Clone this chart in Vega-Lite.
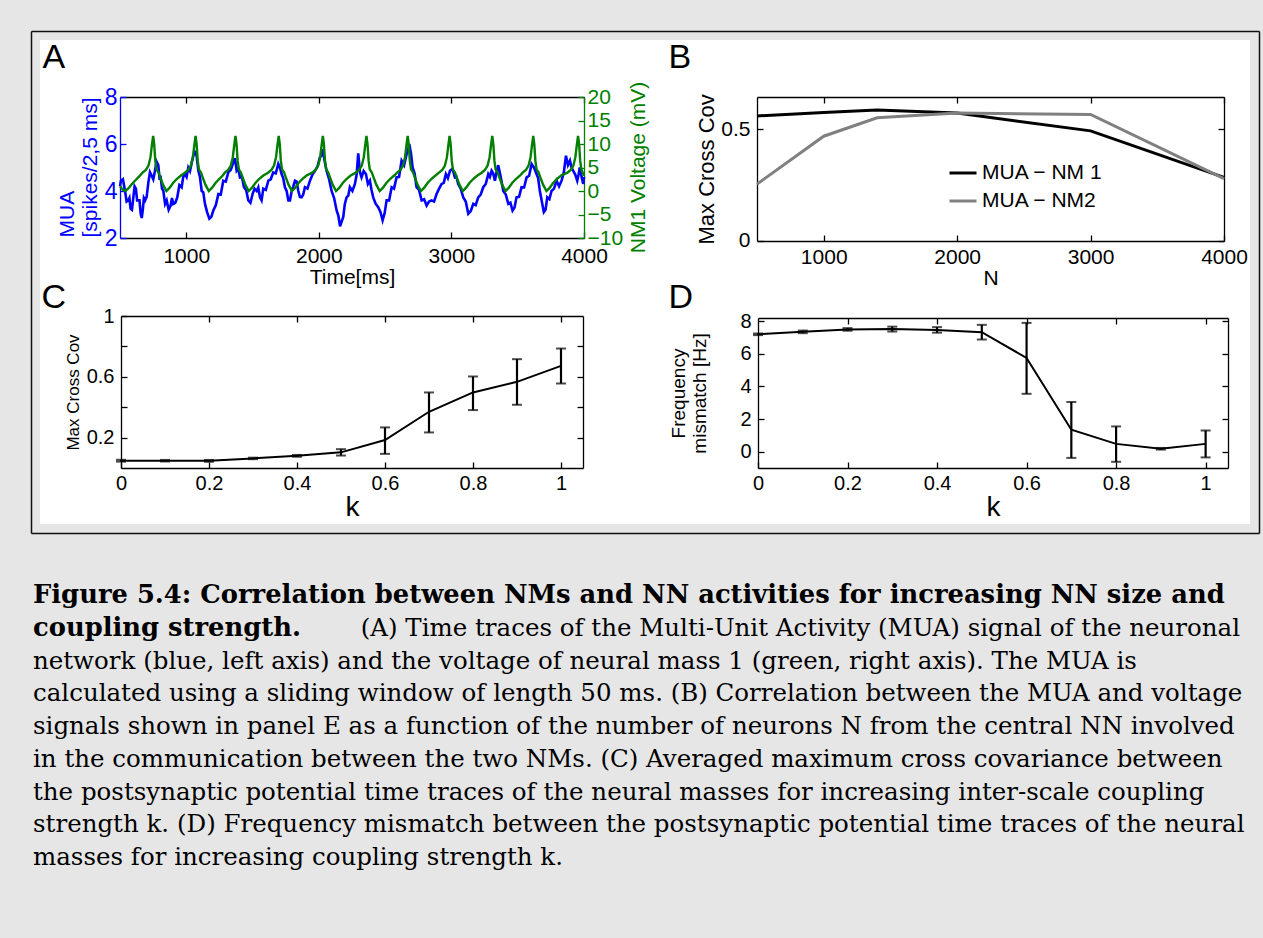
{
  "$schema": "https://vega.github.io/schema/vega-lite/v6.json",
  "background": "#e6e6e6",
  "padding": {"left": 31, "top": 31, "right": 4, "bottom": 80},
  "spacing": 40,
  "datasets": {
    "mua": [
      {"t":500,"mua":4.2},{"t":507,"mua":4.44},{"t":522,"mua":4.5},{"t":538,"mua":4.0},{"t":550,"mua":3.55},{"t":563,"mua":3.6},{"t":571,"mua":3.7},{"t":580,"mua":3.24},{"t":590,"mua":3.2},{"t":600,"mua":3.7},
      {"t":610,"mua":4.2},{"t":620,"mua":4.1},{"t":629,"mua":3.6},{"t":638,"mua":3.6},{"t":647,"mua":3.6},{"t":656,"mua":3.03},{"t":664,"mua":2.85},{"t":672,"mua":3.2},{"t":680,"mua":3.7},{"t":689,"mua":3.6},
      {"t":701,"mua":3.75},{"t":714,"mua":4.37},{"t":726,"mua":4.8},{"t":739,"mua":4.65},{"t":751,"mua":4.5},{"t":764,"mua":4.86},{"t":776,"mua":5.25},{"t":789,"mua":5.1},{"t":798,"mua":4.55},{"t":807,"mua":4.58},
      {"t":817,"mua":4.1},{"t":827,"mua":4.0},{"t":840,"mua":3.45},{"t":852,"mua":3.6},{"t":867,"mua":3.2},{"t":882,"mua":3.38},{"t":892,"mua":3.7},{"t":902,"mua":3.45},{"t":917,"mua":3.5},{"t":932,"mua":3.73},
      {"t":948,"mua":4.25},{"t":965,"mua":4.16},{"t":977,"mua":4.6},{"t":990,"mua":4.72},{"t":1002,"mua":4.6},{"t":1015,"mua":5.0},{"t":1028,"mua":4.85},{"t":1041,"mua":5.2},{"t":1053,"mua":5.5},{"t":1066,"mua":5.64},
      {"t":1078,"mua":5.5},{"t":1091,"mua":4.86},{"t":1103,"mua":4.6},{"t":1116,"mua":4.0},{"t":1128,"mua":3.95},{"t":1141,"mua":3.45},{"t":1157,"mua":3.1},{"t":1174,"mua":2.82},{"t":1189,"mua":2.9},{"t":1204,"mua":3.17},
      {"t":1223,"mua":3.4},{"t":1242,"mua":3.87},{"t":1260,"mua":3.85},{"t":1279,"mua":4.44},{"t":1298,"mua":4.4},{"t":1317,"mua":4.79},{"t":1336,"mua":4.9},{"t":1355,"mua":5.22},{"t":1367,"mua":5.4},{"t":1380,"mua":4.86},
      {"t":1392,"mua":4.95},{"t":1405,"mua":4.58},{"t":1420,"mua":4.6},{"t":1435,"mua":4.16},{"t":1451,"mua":4.05},{"t":1468,"mua":3.6},{"t":1484,"mua":3.5},{"t":1500,"mua":3.87},{"t":1515,"mua":4.1},{"t":1531,"mua":4.0},
      {"t":1543,"mua":4.15},{"t":1556,"mua":3.73},{"t":1568,"mua":3.6},{"t":1581,"mua":4.1},{"t":1600,"mua":4.05},{"t":1619,"mua":4.44},{"t":1637,"mua":4.5},{"t":1656,"mua":4.79},{"t":1675,"mua":4.75},{"t":1694,"mua":5.15},
      {"t":1706,"mua":5.0},{"t":1719,"mua":4.72},{"t":1731,"mua":4.55},{"t":1744,"mua":4.16},{"t":1757,"mua":4.0},{"t":1770,"mua":3.6},{"t":1782,"mua":3.6},{"t":1795,"mua":4.0},{"t":1807,"mua":4.2},{"t":1820,"mua":4.44},
      {"t":1832,"mua":4.4},{"t":1845,"mua":4.0},{"t":1857,"mua":3.75},{"t":1870,"mua":3.73},{"t":1882,"mua":3.85},{"t":1895,"mua":4.16},{"t":1914,"mua":4.1},{"t":1933,"mua":4.44},{"t":1952,"mua":4.7},{"t":1971,"mua":4.86},
      {"t":1990,"mua":5.05},{"t":2008,"mua":5.43},{"t":2018,"mua":5.5},{"t":2028,"mua":5.78},{"t":2043,"mua":5.3},{"t":2058,"mua":4.86},{"t":2077,"mua":4.5},{"t":2096,"mua":4.0},{"t":2115,"mua":3.7},{"t":2134,"mua":3.17},
      {"t":2147,"mua":2.95},{"t":2160,"mua":2.5},{"t":2172,"mua":2.7},{"t":2184,"mua":2.9},{"t":2196,"mua":3.45},{"t":2209,"mua":3.73},{"t":2222,"mua":3.8},{"t":2234,"mua":4.16},{"t":2253,"mua":4.0},{"t":2272,"mua":4.3},
      {"t":2285,"mua":4.7},{"t":2297,"mua":5.6},{"t":2310,"mua":4.8},{"t":2322,"mua":4.58},{"t":2338,"mua":4.85},{"t":2355,"mua":4.72},{"t":2370,"mua":4.3},{"t":2385,"mua":4.44},{"t":2397,"mua":4.05},{"t":2410,"mua":3.73},
      {"t":2429,"mua":3.45},{"t":2448,"mua":3.31},{"t":2465,"mua":3.1},{"t":2481,"mua":2.75},{"t":2496,"mua":3.05},{"t":2511,"mua":3.6},{"t":2530,"mua":3.6},{"t":2549,"mua":4.16},{"t":2567,"mua":4.1},{"t":2586,"mua":4.58},
      {"t":2605,"mua":4.6},{"t":2624,"mua":5.29},{"t":2643,"mua":5.1},{"t":2662,"mua":5.57},{"t":2672,"mua":5.7},{"t":2682,"mua":6.0},{"t":2695,"mua":5.6},{"t":2707,"mua":5.0},{"t":2722,"mua":4.75},{"t":2737,"mua":4.16},
      {"t":2756,"mua":4.05},{"t":2775,"mua":3.6},{"t":2794,"mua":3.65},{"t":2813,"mua":3.38},{"t":2831,"mua":3.55},{"t":2850,"mua":3.6},{"t":2869,"mua":3.55},{"t":2888,"mua":3.87},{"t":2907,"mua":4.1},{"t":2926,"mua":4.3},
      {"t":2942,"mua":4.35},{"t":2958,"mua":4.72},{"t":2973,"mua":4.55},{"t":2989,"mua":4.86},{"t":3008,"mua":4.95},{"t":3026,"mua":4.58},{"t":3038,"mua":4.6},{"t":3051,"mua":4.3},{"t":3070,"mua":4.1},{"t":3089,"mua":3.73},
      {"t":3108,"mua":3.55},{"t":3127,"mua":3.03},{"t":3146,"mua":3.15},{"t":3165,"mua":3.45},{"t":3183,"mua":3.4},{"t":3202,"mua":3.73},{"t":3221,"mua":3.85},{"t":3240,"mua":4.16},{"t":3259,"mua":4.3},{"t":3278,"mua":4.72},
      {"t":3290,"mua":4.6},{"t":3303,"mua":4.86},{"t":3315,"mua":4.75},{"t":3328,"mua":4.44},{"t":3340,"mua":4.8},{"t":3353,"mua":5.1},{"t":3372,"mua":4.6},{"t":3391,"mua":4.0},{"t":3410,"mua":3.85},{"t":3429,"mua":3.45},
      {"t":3445,"mua":3.5},{"t":3461,"mua":3.17},{"t":3476,"mua":3.3},{"t":3491,"mua":3.73},{"t":3510,"mua":3.75},{"t":3529,"mua":4.16},{"t":3548,"mua":4.15},{"t":3567,"mua":4.58},{"t":3586,"mua":4.65},{"t":3605,"mua":5.15},
      {"t":3623,"mua":5.0},{"t":3642,"mua":4.72},{"t":3654,"mua":4.55},{"t":3667,"mua":4.0},{"t":3682,"mua":3.55},{"t":3697,"mua":3.1},{"t":3710,"mua":3.2},{"t":3723,"mua":3.73},{"t":3739,"mua":3.65},{"t":3755,"mua":4.0},
      {"t":3774,"mua":4.1},{"t":3793,"mua":4.44},{"t":3812,"mua":4.2},{"t":3831,"mua":4.44},{"t":3848,"mua":4.8},{"t":3864,"mua":5.5},{"t":3879,"mua":5.1},{"t":3894,"mua":5.29},{"t":3906,"mua":5.0},{"t":3919,"mua":4.86},
      {"t":3934,"mua":4.7},{"t":3949,"mua":4.44},{"t":3959,"mua":4.7},{"t":3969,"mua":5.0},{"t":3982,"mua":4.6},{"t":3994,"mua":4.3},{"t":4000,"mua":4.6}
    ],
    "volt": [
      {"t":500,"v":1.0},{"t":520,"v":0.3},{"t":540,"v":0.0},{"t":565,"v":0.6},{"t":590,"v":1.5},{"t":620,"v":2.4},{"t":645,"v":3.1},{"t":670,"v":3.9},{"t":695,"v":4.5},{"t":715,"v":5.4},{"t":730,"v":7.2},{"t":740,"v":9.6},
      {"t":750,"v":11.7},{"t":758,"v":10.0},{"t":766,"v":6.5},{"t":775,"v":4.6},{"t":790,"v":4.0},{"t":805,"v":2.8},{"t":825,"v":1.3},{"t":850,"v":0.0},{"t":875,"v":0.7},{"t":900,"v":1.7},{"t":930,"v":2.6},{"t":960,"v":3.3},{"t":990,"v":3.9},{"t":1015,"v":4.5},{"t":1035,"v":5.4},{"t":1050,"v":7.2},{"t":1060,"v":9.6},
      {"t":1070,"v":11.7},{"t":1078,"v":10.0},{"t":1086,"v":6.5},{"t":1095,"v":4.6},{"t":1110,"v":4.0},{"t":1125,"v":2.8},{"t":1145,"v":1.3},{"t":1170,"v":0.0},{"t":1195,"v":0.7},{"t":1220,"v":1.7},{"t":1250,"v":2.6},{"t":1275,"v":3.3},{"t":1291,"v":3.9},{"t":1316,"v":4.5},{"t":1336,"v":5.4},{"t":1351,"v":7.2},{"t":1361,"v":9.6},
      {"t":1371,"v":11.7},{"t":1379,"v":10.0},{"t":1387,"v":6.5},{"t":1396,"v":4.6},{"t":1411,"v":4.0},{"t":1426,"v":2.8},{"t":1446,"v":1.3},{"t":1471,"v":0.0},{"t":1496,"v":0.7},{"t":1521,"v":1.7},{"t":1551,"v":2.6},{"t":1581,"v":3.3},{"t":1617,"v":3.9},{"t":1642,"v":4.5},{"t":1662,"v":5.4},{"t":1677,"v":7.2},{"t":1687,"v":9.6},
      {"t":1697,"v":11.7},{"t":1705,"v":10.0},{"t":1713,"v":6.5},{"t":1722,"v":4.6},{"t":1737,"v":4.0},{"t":1752,"v":2.8},{"t":1772,"v":1.3},{"t":1797,"v":0.0},{"t":1822,"v":0.7},{"t":1847,"v":1.7},{"t":1877,"v":2.6},{"t":1907,"v":3.3},{"t":1950,"v":3.9},{"t":1975,"v":4.5},{"t":1995,"v":5.4},{"t":2010,"v":7.2},{"t":2020,"v":9.6},
      {"t":2030,"v":11.7},{"t":2038,"v":10.0},{"t":2046,"v":6.5},{"t":2055,"v":4.6},{"t":2070,"v":4.0},{"t":2085,"v":2.8},{"t":2105,"v":1.3},{"t":2130,"v":0.0},{"t":2155,"v":0.7},{"t":2180,"v":1.7},{"t":2210,"v":2.6},{"t":2240,"v":3.3},{"t":2279,"v":3.9},{"t":2304,"v":4.5},{"t":2324,"v":5.4},{"t":2339,"v":7.2},{"t":2349,"v":9.6},
      {"t":2359,"v":11.7},{"t":2367,"v":10.0},{"t":2375,"v":6.5},{"t":2384,"v":4.6},{"t":2399,"v":4.0},{"t":2414,"v":2.8},{"t":2434,"v":1.3},{"t":2459,"v":0.0},{"t":2484,"v":0.7},{"t":2509,"v":1.7},{"t":2539,"v":2.6},{"t":2569,"v":3.3},{"t":2590,"v":3.9},{"t":2615,"v":4.5},{"t":2635,"v":5.4},{"t":2650,"v":7.2},{"t":2660,"v":9.6},
      {"t":2670,"v":11.7},{"t":2678,"v":10.0},{"t":2686,"v":6.5},{"t":2695,"v":4.6},{"t":2710,"v":4.0},{"t":2725,"v":2.8},{"t":2745,"v":1.3},{"t":2770,"v":0.0},{"t":2795,"v":0.7},{"t":2820,"v":1.7},{"t":2850,"v":2.6},{"t":2880,"v":3.3},{"t":2906,"v":3.9},{"t":2931,"v":4.5},{"t":2951,"v":5.4},{"t":2966,"v":7.2},{"t":2976,"v":9.6},
      {"t":2986,"v":11.7},{"t":2994,"v":10.0},{"t":3002,"v":6.5},{"t":3011,"v":4.6},{"t":3026,"v":4.0},{"t":3041,"v":2.8},{"t":3061,"v":1.3},{"t":3086,"v":0.0},{"t":3111,"v":0.7},{"t":3136,"v":1.7},{"t":3166,"v":2.6},{"t":3196,"v":3.3},{"t":3228,"v":3.9},{"t":3253,"v":4.5},{"t":3273,"v":5.4},{"t":3288,"v":7.2},{"t":3298,"v":9.6},
      {"t":3308,"v":11.7},{"t":3316,"v":10.0},{"t":3324,"v":6.5},{"t":3333,"v":4.6},{"t":3348,"v":4.0},{"t":3363,"v":2.8},{"t":3383,"v":1.3},{"t":3408,"v":0.0},{"t":3433,"v":0.7},{"t":3458,"v":1.7},{"t":3488,"v":2.6},{"t":3518,"v":3.3},{"t":3537,"v":3.9},{"t":3562,"v":4.5},{"t":3582,"v":5.4},{"t":3597,"v":7.2},{"t":3607,"v":9.6},
      {"t":3617,"v":11.7},{"t":3625,"v":10.0},{"t":3633,"v":6.5},{"t":3642,"v":4.6},{"t":3657,"v":4.0},{"t":3672,"v":2.8},{"t":3692,"v":1.3},{"t":3717,"v":0.0},{"t":3742,"v":0.7},{"t":3767,"v":1.7},{"t":3797,"v":2.6},{"t":3827,"v":3.3},{"t":3875,"v":3.9},{"t":3900,"v":4.5},{"t":3920,"v":5.4},{"t":3935,"v":7.2},{"t":3945,"v":9.6},
      {"t":3955,"v":11.7},{"t":3963,"v":10.0},{"t":3971,"v":6.5},{"t":3980,"v":4.6},{"t":3995,"v":3.6},{"t":4000,"v":3.2}
    ],
    "nsize": [
      {"N":500,"series":"MUA − NM 1","cov":0.56},{"N":1000,"series":"MUA − NM 1","cov":0.575},{"N":1400,"series":"MUA − NM 1","cov":0.587},{"N":2000,"series":"MUA − NM 1","cov":0.573},{"N":3000,"series":"MUA − NM 1","cov":0.493},{"N":4000,"series":"MUA − NM 1","cov":0.284},
      {"N":500,"series":"MUA − NM2","cov":0.254},{"N":1000,"series":"MUA − NM2","cov":0.469},{"N":1400,"series":"MUA − NM2","cov":0.552},{"N":2000,"series":"MUA − NM2","cov":0.573},{"N":3000,"series":"MUA − NM2","cov":0.567},{"N":4000,"series":"MUA − NM2","cov":0.279}
    ],
    "kc": [
      {"k":0,"mean":0.048,"lo":0.042,"hi":0.054},{"k":0.1,"mean":0.048,"lo":0.043,"hi":0.053},{"k":0.2,"mean":0.047,"lo":0.041,"hi":0.053},{"k":0.3,"mean":0.063,"lo":0.058,"hi":0.068},{"k":0.4,"mean":0.08,"lo":0.074,"hi":0.086},
      {"k":0.5,"mean":0.103,"lo":0.082,"hi":0.124},{"k":0.6,"mean":0.184,"lo":0.093,"hi":0.267},{"k":0.7,"mean":0.37,"lo":0.234,"hi":0.497},{"k":0.8,"mean":0.497,"lo":0.381,"hi":0.602},{"k":0.9,"mean":0.567,"lo":0.416,"hi":0.716},{"k":1.0,"mean":0.672,"lo":0.556,"hi":0.786}
    ],
    "kd": [
      {"k":0,"mean":7.2,"lo":7.15,"hi":7.25},{"k":0.1,"mean":7.35,"lo":7.27,"hi":7.43},{"k":0.2,"mean":7.5,"lo":7.42,"hi":7.58},{"k":0.3,"mean":7.52,"lo":7.37,"hi":7.67},{"k":0.4,"mean":7.47,"lo":7.3,"hi":7.64},
      {"k":0.5,"mean":7.33,"lo":6.88,"hi":7.78},{"k":0.6,"mean":5.75,"lo":3.55,"hi":7.9},{"k":0.7,"mean":1.35,"lo":-0.38,"hi":3.05},{"k":0.8,"mean":0.48,"lo":-0.62,"hi":1.55},{"k":0.9,"mean":0.18,"lo":0.13,"hi":0.23},{"k":1.0,"mean":0.48,"lo":-0.35,"hi":1.3}
    ],
    "capBold": [
      {"line":1,"text":"Figure 5.4: Correlation between NMs and NN activities for increasing NN size and"},
      {"line":2,"text":"coupling strength."}
    ],
    "capRight": [
      {"line":2,"text":"(A) Time traces of the Multi-Unit Activity (MUA) signal of the neuronal"}
    ],
    "capLeft": [
      {"line":3,"text":"network (blue, left axis) and the voltage of neural mass 1 (green, right axis). The MUA is"},
      {"line":4,"text":"calculated using a sliding window of length 50 ms. (B) Correlation between the MUA and voltage"},
      {"line":5,"text":"signals shown in panel E as a function of the number of neurons N from the central NN involved"},
      {"line":6,"text":"in the communication between the two NMs. (C) Averaged maximum cross covariance between"},
      {"line":7,"text":"the postsynaptic potential time traces of the neural masses for increasing inter-scale coupling"},
      {"line":8,"text":"strength k. (D) Frequency mismatch between the postsynaptic potential time traces of the neural"},
      {"line":9,"text":"masses for increasing coupling strength k."}
    ]
  },
  "vconcat": [
    {
      "width": 1210,
      "height": 484,
      "view": {"fill": "white", "stroke": null},
      "resolve": {"scale": {"x": "independent", "y": "independent"}, "axis": {"x": "independent", "y": "independent"}},
      "layer": [
        {
          "mark": {"type": "point", "opacity": 0},
          "encoding": {
            "x": {"datum": 0, "type": "quantitative", "scale": {"domain": [0, 1], "range": [-9, 1219], "nice": false}, "axis": {"orient": "top", "offset": 9, "labels": false, "ticks": false, "title": null, "domainColor": "#111111", "domainWidth": 1.5}},
            "y": {"datum": 0, "type": "quantitative", "scale": {"domain": [0, 1], "range": [493, -9], "nice": false}, "axis": {"orient": "left", "offset": 9, "labels": false, "ticks": false, "title": null, "domainColor": "#111111", "domainWidth": 1.5}}
          }
        },
        {
          "mark": {"type": "point", "opacity": 0},
          "encoding": {
            "x": {"datum": 0, "type": "quantitative", "scale": {"domain": [0, 1], "range": [-9, 1219], "nice": false}, "axis": {"orient": "bottom", "offset": 9, "labels": false, "ticks": false, "title": null, "domainColor": "#111111", "domainWidth": 1.5}},
            "y": {"datum": 0, "type": "quantitative", "scale": {"domain": [0, 1], "range": [493, -9], "nice": false}, "axis": {"orient": "right", "offset": 9, "labels": false, "ticks": false, "title": null, "domainColor": "#111111", "domainWidth": 1.5}}
          }
        },
        {
          "data": {"name": "mua"},
          "mark": {"type": "line", "color": "#0000ff", "strokeWidth": 2.6},
          "encoding": {
            "x": {"field": "t", "type": "quantitative", "scale": {"domain": [500, 4000], "range": [80, 544], "nice": false, "zero": false},
                  "axis": {"orient": "bottom", "offset": -286, "values": [1000, 2000, 3000, 4000], "format": "d", "labelPadding": 13, "title": "Time[ms]", "titlePadding": 0}},
            "y": {"field": "mua", "type": "quantitative", "scale": {"domain": [2, 8], "range": [198, 57], "nice": false, "zero": false},
                  "axis": {"orient": "left", "offset": -80, "values": [2, 4, 6, 8], "format": "d", "title": ["MUA", "[spikes/2,5 ms]"], "titleAlign": "left", "titleY": 197, "titlePadding": 4, "labelFontSize": 23, "domainColor": "#0000ff", "tickColor": "#0000ff", "labelColor": "#0000ff", "titleColor": "#0000ff"}}
          }
        },
        {
          "data": {"name": "volt"},
          "mark": {"type": "line", "color": "#007f00", "strokeWidth": 2.4},
          "encoding": {
            "x": {"field": "t", "type": "quantitative", "scale": {"domain": [500, 4000], "range": [80, 544], "nice": false, "zero": false},
                  "axis": {"orient": "top", "offset": -57, "values": [1000, 2000, 3000, 4000], "labels": false, "title": "A", "titleFontSize": 34, "titleX": 2, "titleY": -30, "titleAlign": "left", "titleBaseline": "alphabetic", "titleAngle": 0}},
            "y": {"field": "v", "type": "quantitative", "scale": {"domain": [-10, 20], "range": [198, 57], "nice": false, "zero": false},
                  "axis": {"orient": "right", "offset": -666, "values": [-10, -5, 0, 5, 10, 15, 20], "format": "d", "title": "NM1 Voltage (mV)", "titleAngle": 270, "titleAlign": "center", "titleBaseline": "middle", "titleX": 54, "titleY": 127, "domainColor": "#007f00", "tickColor": "#007f00", "labelColor": "#007f00", "titleColor": "#007f00"}}
          }
        },
        {
          "data": {"name": "nsize"},
          "mark": {"type": "line", "strokeWidth": 3},
          "encoding": {
            "x": {"field": "N", "type": "quantitative", "scale": {"domain": [500, 4000], "range": [717, 1184], "nice": false, "zero": false},
                  "axis": {"orient": "bottom", "offset": -283, "values": [1000, 2000, 3000, 4000], "format": "d", "labelPadding": 11, "title": "N", "titlePadding": 0}},
            "y": {"field": "cov", "type": "quantitative", "scale": {"domain": [0, 0.645], "range": [200.7, 57], "nice": false, "zero": false},
                  "axis": {"orient": "left", "offset": -717, "values": [0, 0.5], "format": "~g", "labelPadding": 13, "title": "Max Cross Cov", "titleFontSize": 22, "titlePadding": 2}},
            "color": {"field": "series", "type": "nominal", "scale": {"domain": ["MUA − NM 1", "MUA − NM2"], "range": ["#000000", "#808080"]},
                      "legend": {"orient": "none", "legendX": 908, "legendY": 118, "title": null, "symbolType": "stroke", "symbolSize": 729, "symbolStrokeWidth": 3, "labelFontSize": 21, "labelFont": "Liberation Sans", "labelColor": "black", "rowPadding": 3, "labelOffset": 4, "padding": 0}}
          }
        },
        {
          "mark": {"type": "point", "opacity": 0},
          "encoding": {
            "x": {"datum": 500, "type": "quantitative", "scale": {"domain": [500, 4000], "range": [717, 1184], "nice": false, "zero": false},
                  "axis": {"orient": "top", "offset": -57, "values": [1000, 2000, 3000, 4000], "labels": false, "title": "B", "titleFontSize": 34, "titleX": 628, "titleY": -30, "titleAlign": "left", "titleBaseline": "alphabetic", "titleAngle": 0}},
            "y": {"datum": 0, "type": "quantitative", "scale": {"domain": [0, 0.645], "range": [200.7, 57], "nice": false, "zero": false},
                  "axis": {"orient": "right", "offset": -26, "values": [0, 0.5], "labels": false, "title": null}}
          }
        },
        {
          "data": {"name": "kc"},
          "mark": {"type": "line", "color": "black", "strokeWidth": 2},
          "encoding": {
            "x": {"field": "k", "type": "quantitative", "scale": {"domain": [0, 1.05], "range": [81, 543], "nice": false, "zero": false},
                  "axis": {"orient": "bottom", "offset": -56, "values": [0, 0.2, 0.4, 0.6, 0.8, 1], "format": "~g", "labelPadding": 11, "title": "k", "titleFontSize": 28, "titlePadding": 0, "labelFontSize": 20}},
            "y": {"field": "mean", "type": "quantitative", "scale": {"domain": [0, 1], "range": [428, 276], "nice": false, "zero": false},
                  "axis": {"orient": "left", "offset": -81, "values": [0.2, 0.4, 0.6, 0.8, 1], "format": "~g", "labelPadding": 13, "labelExpr": "(datum.value > 0.35 && datum.value < 0.45) || (datum.value > 0.75 && datum.value < 0.85) ? '' : datum.label", "labelFontSize": 20, "title": "Max Cross Cov", "titleFontSize": 17, "titlePadding": 4}}
          }
        },
        {
          "data": {"name": "kc"},
          "mark": {"type": "rule", "color": "black", "strokeWidth": 2.2},
          "encoding": {
            "x": {"field": "k", "type": "quantitative", "scale": {"domain": [0, 1.05], "range": [81, 543], "nice": false, "zero": false},
                  "axis": {"orient": "top", "offset": -276, "values": [0.2, 0.4, 0.6, 0.8, 1], "labels": false, "title": "C", "titleFontSize": 34, "titleX": 1, "titleY": -9, "titleAlign": "left", "titleBaseline": "alphabetic", "titleAngle": 0}},
            "y": {"field": "lo", "type": "quantitative", "scale": {"domain": [0, 1], "range": [428, 276], "nice": false, "zero": false},
                  "axis": {"orient": "right", "offset": -667, "values": [0.2, 0.4, 0.6, 0.8], "labels": false, "title": null}},
            "y2": {"field": "hi"}
          }
        },
        {
          "data": {"name": "kc"},
          "mark": {"type": "tick", "orient": "horizontal", "color": "black", "size": 10, "thickness": 2},
          "encoding": {
            "x": {"field": "k", "type": "quantitative", "scale": {"domain": [0, 1.05], "range": [81, 543], "nice": false, "zero": false}, "axis": null},
            "y": {"field": "lo", "type": "quantitative", "scale": {"domain": [0, 1], "range": [428, 276], "nice": false, "zero": false}, "axis": null}
          }
        },
        {
          "data": {"name": "kc"},
          "mark": {"type": "tick", "orient": "horizontal", "color": "black", "size": 10, "thickness": 2},
          "encoding": {
            "x": {"field": "k", "type": "quantitative", "scale": {"domain": [0, 1.05], "range": [81, 543], "nice": false, "zero": false}, "axis": null},
            "y": {"field": "hi", "type": "quantitative", "scale": {"domain": [0, 1], "range": [428, 276], "nice": false, "zero": false}, "axis": null}
          }
        },
        {
          "mark": {"type": "rule", "color": "#808080", "strokeWidth": 1.5, "strokeDash": [6, 4]},
          "encoding": {
            "x": {"datum": 0, "type": "quantitative", "scale": {"domain": [0, 1.05], "range": [718, 1188], "nice": false, "zero": false}, "axis": null},
            "x2": {"datum": 1.05},
            "y": {"datum": 0, "type": "quantitative", "scale": {"domain": [-1, 8.2], "range": [428, 278], "nice": false, "zero": false}, "axis": null}
          }
        },
        {
          "data": {"name": "kd"},
          "mark": {"type": "line", "color": "black", "strokeWidth": 2},
          "encoding": {
            "x": {"field": "k", "type": "quantitative", "scale": {"domain": [0, 1.05], "range": [718, 1188], "nice": false, "zero": false},
                  "axis": {"orient": "bottom", "offset": -56, "values": [0, 0.2, 0.4, 0.6, 0.8, 1], "format": "~g", "labelPadding": 11, "title": "k", "titleFontSize": 28, "titlePadding": 0, "labelFontSize": 20}},
            "y": {"field": "mean", "type": "quantitative", "scale": {"domain": [-1, 8.2], "range": [428, 278], "nice": false, "zero": false},
                  "axis": {"orient": "left", "offset": -718, "values": [0, 2, 4, 6, 8], "format": "d", "labelPadding": 13, "labelFontSize": 20, "title": ["Frequency", "mismatch [Hz]"], "titleFontSize": 19, "titlePadding": 30}}
          }
        },
        {
          "data": {"name": "kd"},
          "mark": {"type": "rule", "color": "black", "strokeWidth": 2.2},
          "encoding": {
            "x": {"field": "k", "type": "quantitative", "scale": {"domain": [0, 1.05], "range": [718, 1188], "nice": false, "zero": false},
                  "axis": {"orient": "top", "offset": -278, "values": [0.2, 0.4, 0.6, 0.8, 1], "labels": false, "title": "D", "titleFontSize": 34, "titleX": 628, "titleY": -11, "titleAlign": "left", "titleBaseline": "alphabetic", "titleAngle": 0}},
            "y": {"field": "lo", "type": "quantitative", "scale": {"domain": [-1, 8.2], "range": [428, 278], "nice": false, "zero": false},
                  "axis": {"orient": "right", "offset": -22, "values": [0, 2, 4, 6, 8], "labels": false, "title": null}},
            "y2": {"field": "hi"}
          }
        },
        {
          "data": {"name": "kd"},
          "mark": {"type": "tick", "orient": "horizontal", "color": "black", "size": 10, "thickness": 2},
          "encoding": {
            "x": {"field": "k", "type": "quantitative", "scale": {"domain": [0, 1.05], "range": [718, 1188], "nice": false, "zero": false}, "axis": null},
            "y": {"field": "lo", "type": "quantitative", "scale": {"domain": [-1, 8.2], "range": [428, 278], "nice": false, "zero": false}, "axis": null}
          }
        },
        {
          "data": {"name": "kd"},
          "mark": {"type": "tick", "orient": "horizontal", "color": "black", "size": 10, "thickness": 2},
          "encoding": {
            "x": {"field": "k", "type": "quantitative", "scale": {"domain": [0, 1.05], "range": [718, 1188], "nice": false, "zero": false}, "axis": null},
            "y": {"field": "hi", "type": "quantitative", "scale": {"domain": [-1, 8.2], "range": [428, 278], "nice": false, "zero": false}, "axis": null}
          }
        }
      ]
    },
    {
      "width": 1207,
      "height": 262,
      "view": {"stroke": null},
      "layer": [
        {
          "data": {"name": "capBold"},
          "mark": {"type": "text", "align": "left", "baseline": "alphabetic", "font": "DejaVu Serif", "fontSize": 25.8, "fontWeight": "bold", "color": "black", "dx": -7},
          "encoding": {
            "x": {"value": 0},
            "y": {"field": "line", "type": "quantitative", "scale": {"domain": [1, 9], "reverse": true, "nice": false, "zero": false}, "axis": null},
            "text": {"field": "text"}
          }
        },
        {
          "data": {"name": "capRight"},
          "mark": {"type": "text", "align": "right", "baseline": "alphabetic", "font": "DejaVu Serif", "fontSize": 24.5, "color": "black", "dx": -7},
          "encoding": {
            "x": {"value": "width"},
            "y": {"field": "line", "type": "quantitative", "axis": null},
            "text": {"field": "text"}
          }
        },
        {
          "data": {"name": "capLeft"},
          "mark": {"type": "text", "align": "left", "baseline": "alphabetic", "font": "DejaVu Serif", "fontSize": 24.5, "color": "black", "dx": -7},
          "encoding": {
            "x": {"value": 0},
            "y": {"field": "line", "type": "quantitative", "axis": null},
            "text": {"field": "text"}
          }
        }
      ]
    }
  ],
  "config": {
    "font": "Liberation Sans",
    "view": {"stroke": null},
    "axis": {
      "grid": false,
      "domainColor": "black",
      "tickColor": "black",
      "labelColor": "black",
      "titleColor": "black",
      "labelFont": "Liberation Sans",
      "titleFont": "Liberation Sans",
      "labelFontSize": 21,
      "titleFontSize": 21,
      "titleFontWeight": "normal",
      "tickSize": -6,
      "labelPadding": 9,
      "domainWidth": 1.3,
      "tickWidth": 1.3,
      "labelFlush": false,
      "labelOverlap": false
    }
  }
}
